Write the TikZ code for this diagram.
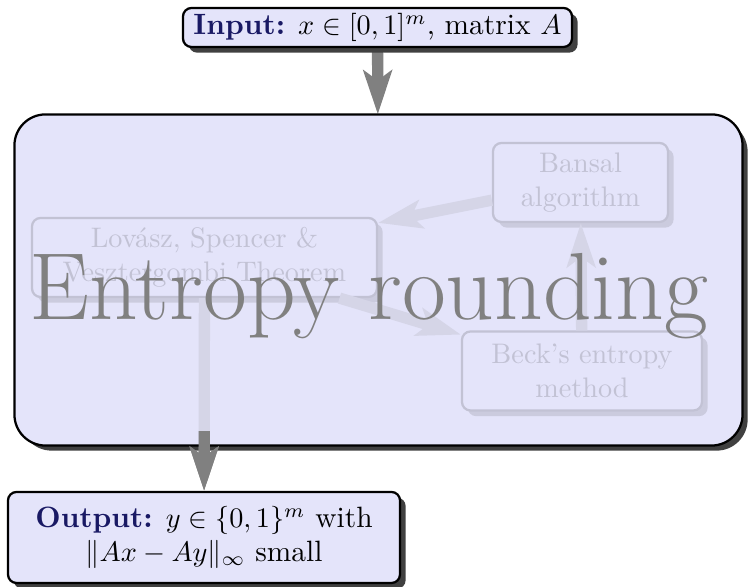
\documentclass[tikz,border=0pt]{standalone}
\usetikzlibrary{arrows.meta,shadows}
\definecolor{navyc}{RGB}{25,25,100}
\definecolor{boxfill}{RGB}{228,228,250}
\newcommand\pxu{0.354pt}
\pgfdeclarelayer{back}
\pgfsetlayers{back,main}
\tikzset{
  arr/.style={draw=gray, line width=4pt, -{Stealth[length=15.5pt,width=10pt,inset=3.5pt]}},
  shadowed/.style={drop shadow={shadow xshift=2pt, shadow yshift=-2pt, opacity=1, fill=black!75}},
  iobox/.style={draw=black, thick, fill=boxfill, rounded corners=3pt, shadowed, inner sep=0pt, align=center, font=\fontsize{10.4}{12}\selectfont},
  thmbox/.style={draw=black, thick, fill=boxfill, rounded corners=3pt, shadowed, inner sep=0pt, align=center, minimum height=79*\pxu},
  mainbox/.style={fill=boxfill, rounded corners=11pt, shadowed, inner sep=0pt, minimum width=727*\pxu, minimum height=330*\pxu},
  bigtext/.style={font=\fontsize{33.75}{40}\selectfont, text=gray, inner sep=0pt},
}
\begin{document}
\begin{tikzpicture}[x=0.354pt, y=-0.354pt]
\useasboundingbox (0,0) rectangle (748,587);
% main box (opaque base)
\node[mainbox] (main) at (378.5,280) {};
% inner theorem boxes
\node[thmbox, minimum width=345*\pxu] (lsv) at (204.5,257.5) {Lovász, Spencer \&\\ Vesztergombi Theorem};
\node[thmbox, minimum width=175*\pxu] (bansal) at (580.5,182.5) {Bansal\\ algorithm};
\node[thmbox, minimum width=240*\pxu] (beck) at (582,371) {Beck's entropy\\ method};
% input / output
\node[iobox, minimum width=389*\pxu, minimum height=39*\pxu] (in) at (377.5,27.5) {{\color{navyc}\bfseries Input:} $x\in[0,1]^m$, matrix $A$};
\node[iobox, minimum width=392*\pxu, minimum height=91*\pxu] (out) at (204,537.5) {{\color{navyc}\bfseries Output:} $y\in\{0,1\}^m$ with\\ $\|Ax-Ay\|_\infty$ small};
% inner arrows
\draw[arr] (bansal) -- (lsv);
\draw[arr] (lsv) -- (beck);
\draw[arr] (beck) -- (bansal);
\draw[arr] (lsv) -- (out);
% translucent overlay fading the inner diagram
\fill[boxfill, fill opacity=0.85, rounded corners=11pt] (main.south west) rectangle (main.north east);
\draw[thick, rounded corners=11pt] (main.south west) rectangle (main.north east);
\node[bigtext, anchor=base] (title) at (369,320) {Entropy rounding};
% visible lower part of the output arrow
\begin{scope}
  \clip (0,432) rectangle (748,587);
  \draw[arr] (lsv) -- (out);
\end{scope}
\begin{pgfonlayer}{back}
  \draw[arr] (in) -- (main);
\end{pgfonlayer}
\end{tikzpicture}
\end{document}
